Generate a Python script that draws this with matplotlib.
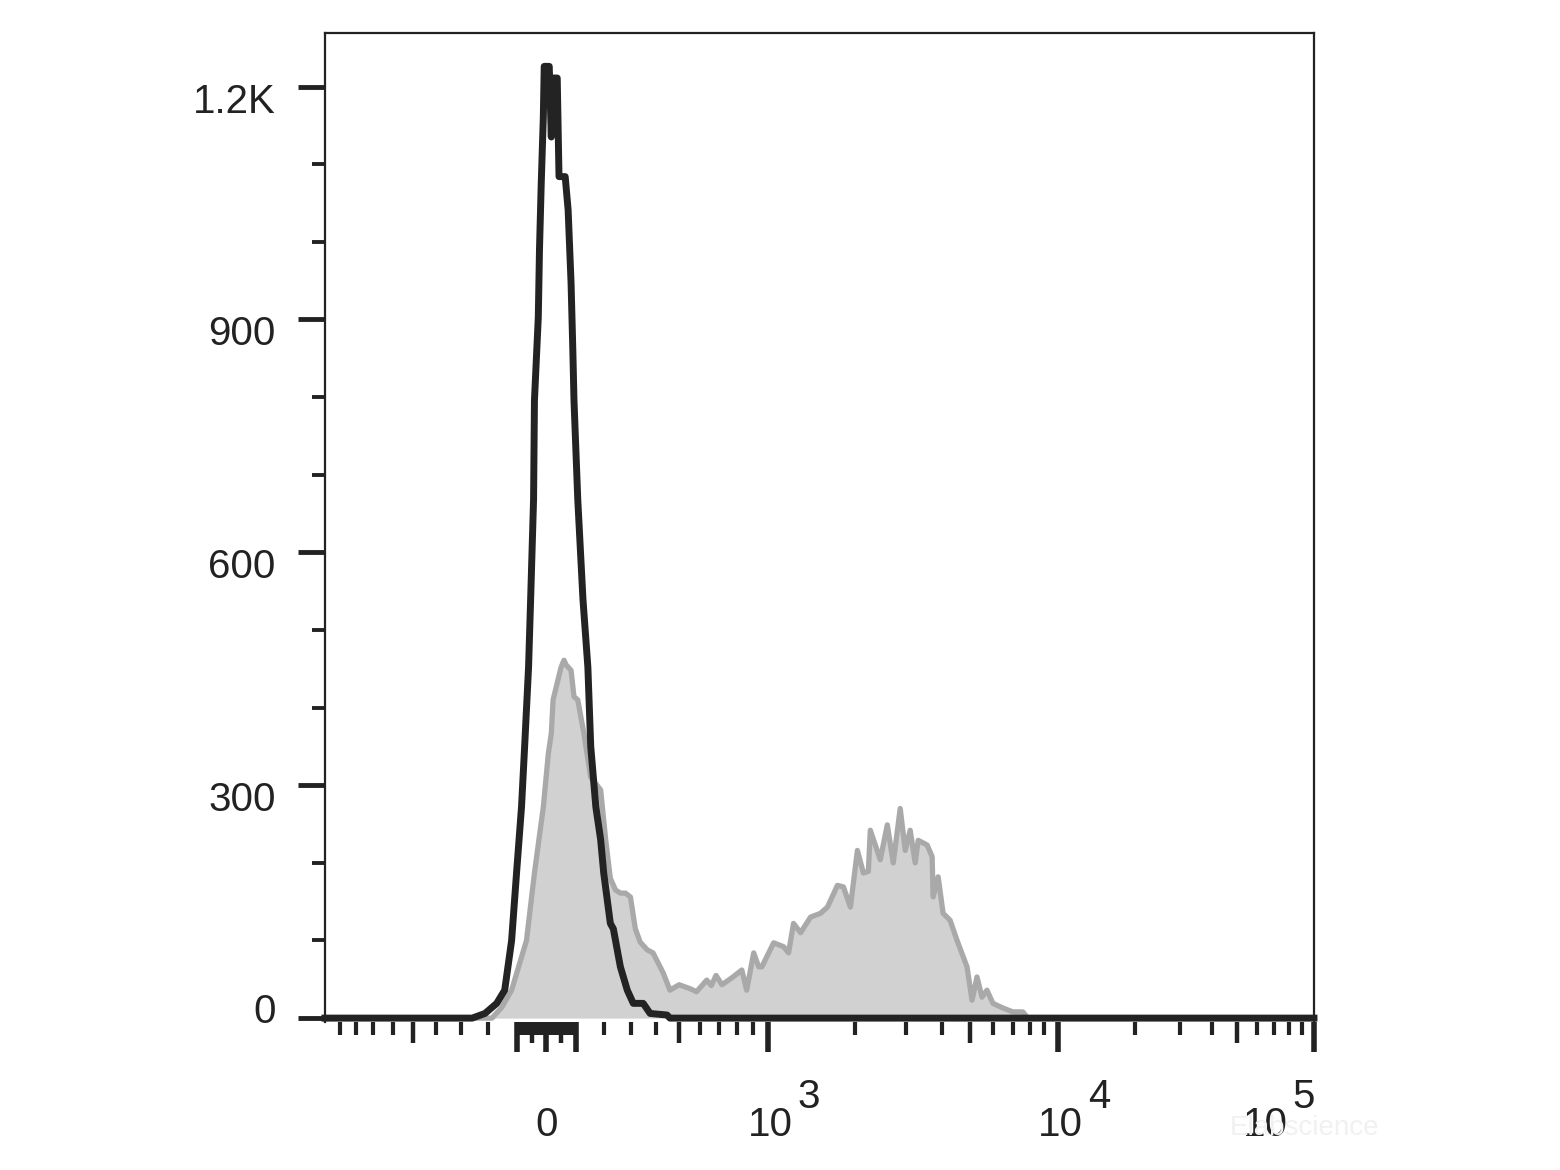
#!/usr/bin/env python3

import numpy as np
import matplotlib
matplotlib.use('Agg')
import matplotlib.pyplot as plt
from matplotlib import transforms

plt.rcParams['font.family'] = ['Liberation Sans', 'DejaVu Sans']

# unstained / isotype control (black outline)
ctrl_x = [-1000, -259, -212, -170, -142, -118, -101, -84, -74, -60, -53, -43, -40, -27, -23,
          -17, -10, -7, 0, 10, 17, 20, 37, 43, 64, 74, 84, 90, 94, 107, 125, 142, 152,
          170, 187, 198, 222, 233, 259, 285, 308, 347, 375, 446, 459, 100000]
ctrl_y = [0, 0, 6, 19, 36, 100, 187, 272, 345, 452, 539, 668, 796, 903, 990,
          1076, 1161, 1226, 1226, 1226, 1135, 1211, 1211, 1084, 1084, 1041, 947, 861, 796, 668, 539, 452, 350,
          272, 230, 187, 122, 115, 66, 36, 19, 19, 6, 4, 0, 0]

# stained sample (grey filled)
stain_x = [-1000, -187, -152, -118, -67, -40, -10, 7, 17, 23, 50, 60, 67, 84, 94, 107, 128, 152,
           187, 205, 222, 241, 259, 278, 297, 316, 335, 363, 387, 430, 459, 500, 550, 583,
           634, 658, 683, 715, 772, 831, 861, 906, 939, 960, 1049, 1135, 1181, 1228, 1299,
           1405, 1521, 1608, 1740, 1825, 1929, 2039, 2138, 2224, 2259, 2445, 2585, 2710, 2864,
           2981, 3100, 3226, 3303, 3546, 3690, 3719, 3870, 4026, 4256, 4498, 4867, 5065, 5268,
           5481, 5702, 5978, 6471, 7005, 7580, 7885, 100000]
stain_y = [0, 0, 14, 36, 100, 187, 272, 341, 367, 410, 452, 461, 455, 448, 414, 410, 367, 310,
           294, 230, 180, 165, 161, 161, 156, 115, 98, 88, 84, 58, 36, 43, 38, 34,
           49, 42, 55, 43, 52, 62, 36, 84, 66, 66, 97, 92, 84, 122, 110,
           130, 135, 143, 171, 169, 143, 216, 187, 189, 242, 204, 249, 200, 270,
           216, 242, 200, 229, 223, 208, 156, 182, 135, 126, 100, 66, 23, 53,
           27, 36, 19, 13, 8, 8, 0, 0]

y_major = [0, 300, 600, 900, 1200]
y_labels = ['0', '300', '600', '900', '1.2K']
y_minor = [100, 200, 400, 500, 700, 800, 1000, 1100]

x_major = [-100, 0, 100, 1000, 10000, 100000]
x_mid = [-500, -50, 50, 500, 5000, 50000]
x_minor = ([-s * v for s in (10, 100) for v in (1, 2, 3, 4, 6, 7, 8, 9) if s * v != 100] +
           [s * v for s in (10, 100, 1000, 10000) for v in (1, 2, 3, 4, 6, 7, 8, 9)
            if s * v not in (100, 1000, 10000)])
x_labels = [(0, '0', None), (1000, '10', '3'), (10000, '10', '4'), (100000, '10', '5')]

# biexponential-like display transform
W = 550.0
A = 222.0 / np.arcsinh(1000.0 / W)
P3, P4 = 222.0, 513.0
D34, D45 = 291.0, 257.0


def fwd(v):
    v = np.asarray(v, dtype=float)
    a = np.abs(v)
    lg = np.log10(np.maximum(a, 1.0))
    y = np.where(a <= 1e3, A * np.arcsinh(a / W),
                 np.where(a <= 1e4, P3 + D34 * (lg - 3), P4 + D45 * (lg - 4)))
    return np.sign(v) * y


def inv(p):
    p = np.asarray(p, dtype=float)
    a = np.clip(np.abs(p), 0, 2000)
    v = np.where(a <= P3, W * np.sinh(a / A),
                 np.where(a <= P4, 10 ** (3 + (a - P3) / D34), 10 ** (4 + (a - P4) / D45)))
    return np.sign(p) * v


fig = plt.figure(figsize=(15.6, 11.7), dpi=100)
ax = fig.add_axes([0.2083, 0.1265, 0.634, 0.8453])
ax.set_xscale('function', functions=(fwd, inv))

ax.fill_between(stain_x, stain_y, 0, color='#d1d1d1', lw=0, zorder=1)
ax.plot(stain_x, stain_y, color='#a9a9a9', lw=3.8, zorder=2)
ax.plot(ctrl_x, ctrl_y, color='#232323', lw=5.0, zorder=3, clip_on=False)

ax.set_xlim(-1000, 100000)
ax.set_ylim(-5, 1269)

for s in ['left', 'top', 'right']:
    ax.spines[s].set_linewidth(1.6)
    ax.spines[s].set_color('#222222')
ax.spines['bottom'].set_visible(False)

ax.set_yticks(y_major)
ax.set_yticklabels(y_labels)
ax.set_yticks(y_minor, minor=True)
ax.tick_params(axis='y', which='major', length=19.5, width=3.5, pad=16, labelsize=29,
               color='#222222', labelcolor='#222222')
ax.tick_params(axis='y', which='minor', length=9.5, width=2.8, color='#222222')
# labels sit a little below their ticks, the 0 a little above
for lab in ax.get_yticklabels():
    dy = 0.10 if lab.get_text() == '0' else -0.11
    lab.set_transform(lab.get_transform() + transforms.ScaledTranslation(0, dy, fig.dpi_scale_trans))

xt = sorted(x_major + x_mid)
ax.set_xticks(xt)
ax.set_xticklabels([''] * len(xt))
ax.set_xticks(x_minor, minor=True)
ax.xaxis.set_minor_formatter(plt.NullFormatter())
ax.tick_params(axis='x', which='major', length=21.5, width=4.0, color='#222222')
ax.tick_params(axis='x', which='minor', length=9.5, width=3.0, color='#222222')
# the 5s get a medium length tick
for tick, loc in zip(ax.xaxis.get_major_ticks(), ax.get_xticks()):
    if loc in x_mid:
        tick.tick1line.set_markersize(15)
        tick.tick1line.set_markeredgewidth(3.2)

# x labels: "10" with a full-size raised exponent, like the FlowJo export
tr = ax.get_xaxis_transform()
for val, base, ex in x_labels:
    dx = -49 if val == 100000 else (3 if ex else 0)
    t = transforms.offset_copy(tr, fig=fig, x=dx, y=0, units='dots')
    ax.text(val, -0.104, base, transform=t, ha='center', va='center', fontsize=29, color='#222222')
    if ex:
        t2 = transforms.offset_copy(tr, fig=fig, x=dx + 27, y=0, units='dots')
        ax.text(val, -0.076, ex, transform=t2, ha='left', va='center', fontsize=29, color='#222222')

fig.text(0.8365, 0.036, 'Elabscience', ha='center', va='center', fontsize=20, color='#f1f1f1')

plt.savefig('out.png', dpi=100)
